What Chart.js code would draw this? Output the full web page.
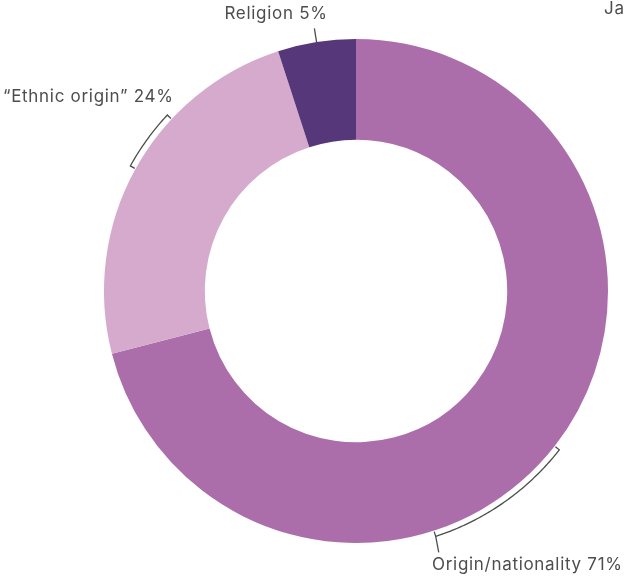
<!DOCTYPE html>
<html>
<head>
<meta charset="utf-8">
<script src="https://cdn.jsdelivr.net/npm/chart.js@4/dist/chart.umd.min.js"></script>
<style>
  html, body { margin: 0; padding: 0; background: #ffffff; }
  #wrap { width: 625px; height: 576px; position: relative; }
</style>
</head>
<body>
<div id="wrap"><canvas id="chart" width="625" height="576"></canvas></div>
<script>
// Grounds cited, share of cases (%)
const categories = ["Origin/nationality", "\u201cEthnic origin\u201d", "Religion"];
const shares = [71, 24, 5];
const sliceColors = ["#ab6eab", "#d5aacd", "#55377a"];

// Label placement per slice: anchor text position and leader style
const labelSpecs = [
  { text: "Origin/nationality 71%", x: 432, y: 565, align: "left", bracket: [128, 162] },
  { text: "\u201cEthnic origin\u201d 24%", x: 3, y: 97, align: "left", bracket: [299, 313] },
  { text: "Religion 5%", x: 276, y: 14, align: "center", bracket: null }
];

const TEXT_COLOR = "#4d4d4d";
const FONT = "17px Inter, 'Noto Sans', sans-serif";

const leaderPlugin = {
  id: "leaders",
  afterDatasetsDraw(chart) {
    const ctx = chart.ctx;
    const meta = chart.getDatasetMeta(0);
    const arc0 = meta.data[0];
    const cx = arc0.x, cy = arc0.y, R = arc0.outerRadius;
    const pt = (deg, r) => {
      const a = deg * Math.PI / 180;
      return [cx + r * Math.sin(a), cy - r * Math.cos(a)];
    };
    ctx.save();
    ctx.strokeStyle = "#4d4d4d";
    ctx.lineWidth = 1.3;
    ctx.fillStyle = TEXT_COLOR;
    ctx.font = FONT;
    ctx.letterSpacing = "0.7px";
    ctx.textBaseline = "middle";

    labelSpecs.forEach((spec, i) => {
      const el = meta.data[i];
      if (spec.bracket) {
        const [a0, a1] = spec.bracket;
        const rb = R + 6;
        ctx.beginPath();
        const s = pt(a0, R + 1);
        ctx.moveTo(s[0], s[1]);
        for (let d = a0; d <= a1 + 0.001; d += 0.5) {
          const p = pt(d, rb);
          ctx.lineTo(p[0], p[1]);
        }
        const e = pt(a1, R + 1);
        ctx.lineTo(e[0], e[1]);
        ctx.stroke();
        if (i === 0) {
          // short stem from bracket end down to the label
          const b = pt(a1, rb);
          ctx.beginPath();
          ctx.moveTo(b[0], b[1]);
          ctx.lineTo(b[0] + 3, b[1] + 16);
          ctx.stroke();
        }
      } else {
        // radial tick at the slice's mid-angle
        const mid = ((el.startAngle + el.endAngle) / 2 + Math.PI / 2) * 180 / Math.PI;
        const p1 = pt(mid, R);
        const p2 = pt(mid, R + 14);
        ctx.beginPath();
        ctx.moveTo(p1[0], p1[1]);
        ctx.lineTo(p2[0], p2[1]);
        ctx.stroke();
      }
      ctx.textAlign = spec.align;
      ctx.fillText(spec.text, spec.x, spec.y);
    });

    // clipped caption at the top-right edge
    ctx.textAlign = "left";
    ctx.fillText("Ja", 604, 9);
    ctx.restore();
  }
};

new Chart(document.getElementById("chart"), {
  type: "doughnut",
  data: {
    labels: categories,
    datasets: [{
      data: shares,
      backgroundColor: sliceColors,
      borderWidth: 0,
      hoverOffset: 0
    }]
  },
  options: {
    responsive: false,
    animation: false,
    cutout: "60%",
    layout: { padding: { left: 104, right: 17, top: 39, bottom: 33 } },
    plugins: {
      legend: { display: false },
      tooltip: { enabled: false }
    }
  },
  plugins: [leaderPlugin]
});
</script>
</body>
</html>
